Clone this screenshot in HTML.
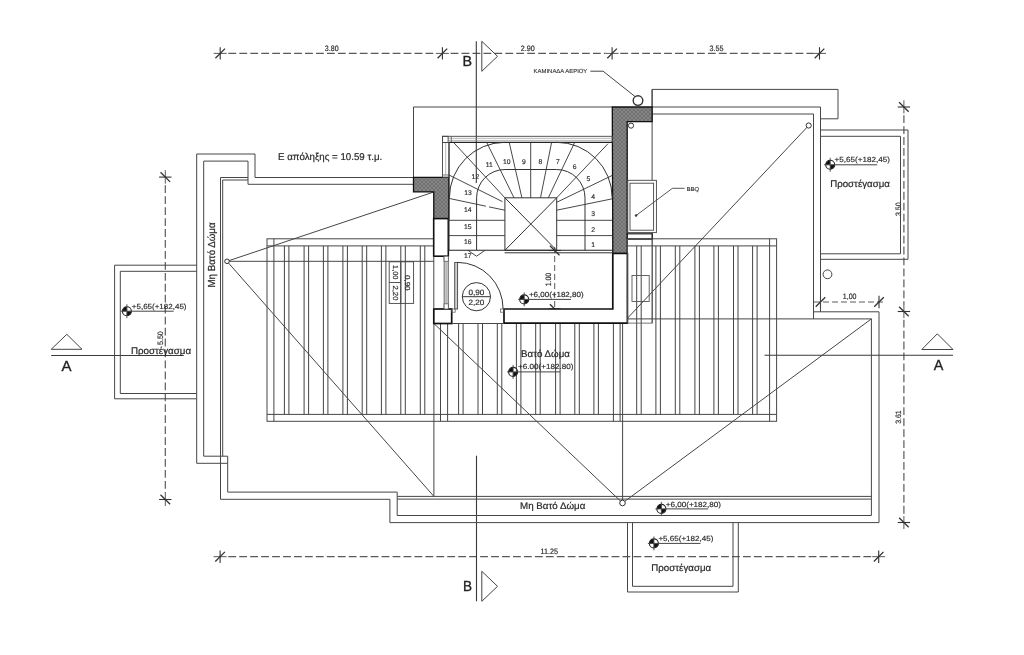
<!DOCTYPE html>
<html><head><meta charset="utf-8"><title>Plan</title>
<style>
html,body{margin:0;padding:0;background:#fff;width:1024px;height:655px;overflow:hidden;}
svg{display:block;will-change:transform;}
text{font-family:"Liberation Sans",sans-serif;text-rendering:geometricPrecision;}
</style></head><body>
<svg width="1024" height="655" viewBox="0 0 1024 655">
<defs>
<pattern id="hatch" width="4" height="4" patternUnits="userSpaceOnUse">
<rect width="4" height="4" fill="#858585"/>
<path d="M0,0 L4,4 M4,0 L0,4" stroke="#6c6c6c" stroke-width="0.8"/>
</pattern>
</defs>
<rect width="1024" height="655" fill="#fff"/>
<rect x="267" y="238.8" width="509.6" height="182.5" fill="none" stroke="#464646" stroke-width="1"/>
<line x1="273.9" y1="238.8" x2="273.9" y2="421.3" stroke="#464646" stroke-width="1" />
<line x1="769.6" y1="238.8" x2="769.6" y2="421.3" stroke="#464646" stroke-width="1" />
<line x1="267" y1="245.9" x2="776.6" y2="245.9" stroke="#464646" stroke-width="1" />
<line x1="267" y1="414.4" x2="776.6" y2="414.4" stroke="#464646" stroke-width="1" />
<line x1="284.4" y1="245.9" x2="284.4" y2="414.4" stroke="#444" stroke-width="1" />
<line x1="288.9" y1="245.9" x2="288.9" y2="414.4" stroke="#444" stroke-width="1" />
<line x1="304.1" y1="245.9" x2="304.1" y2="414.4" stroke="#444" stroke-width="1" />
<line x1="308.6" y1="245.9" x2="308.6" y2="414.4" stroke="#444" stroke-width="1" />
<line x1="323.4" y1="245.9" x2="323.4" y2="414.4" stroke="#444" stroke-width="1" />
<line x1="327.9" y1="245.9" x2="327.9" y2="414.4" stroke="#444" stroke-width="1" />
<line x1="342.9" y1="245.9" x2="342.9" y2="414.4" stroke="#444" stroke-width="1" />
<line x1="347.4" y1="245.9" x2="347.4" y2="414.4" stroke="#444" stroke-width="1" />
<line x1="362.2" y1="245.9" x2="362.2" y2="414.4" stroke="#444" stroke-width="1" />
<line x1="366.7" y1="245.9" x2="366.7" y2="414.4" stroke="#444" stroke-width="1" />
<line x1="381.4" y1="245.9" x2="381.4" y2="414.4" stroke="#444" stroke-width="1" />
<line x1="385.9" y1="245.9" x2="385.9" y2="414.4" stroke="#444" stroke-width="1" />
<line x1="400.8" y1="245.9" x2="400.8" y2="414.4" stroke="#444" stroke-width="1" />
<line x1="405.3" y1="245.9" x2="405.3" y2="414.4" stroke="#444" stroke-width="1" />
<line x1="420.3" y1="245.9" x2="420.3" y2="414.4" stroke="#444" stroke-width="1" />
<line x1="424.8" y1="245.9" x2="424.8" y2="414.4" stroke="#444" stroke-width="1" />
<line x1="458.6" y1="245.9" x2="458.6" y2="414.4" stroke="#444" stroke-width="1" />
<line x1="463.1" y1="245.9" x2="463.1" y2="414.4" stroke="#444" stroke-width="1" />
<line x1="478.0" y1="245.9" x2="478.0" y2="414.4" stroke="#444" stroke-width="1" />
<line x1="482.5" y1="245.9" x2="482.5" y2="414.4" stroke="#444" stroke-width="1" />
<line x1="497.3" y1="245.9" x2="497.3" y2="414.4" stroke="#444" stroke-width="1" />
<line x1="501.8" y1="245.9" x2="501.8" y2="414.4" stroke="#444" stroke-width="1" />
<line x1="516.4" y1="245.9" x2="516.4" y2="414.4" stroke="#444" stroke-width="1" />
<line x1="520.9" y1="245.9" x2="520.9" y2="414.4" stroke="#444" stroke-width="1" />
<line x1="535.7" y1="245.9" x2="535.7" y2="414.4" stroke="#444" stroke-width="1" />
<line x1="540.2" y1="245.9" x2="540.2" y2="414.4" stroke="#444" stroke-width="1" />
<line x1="555.6" y1="245.9" x2="555.6" y2="414.4" stroke="#444" stroke-width="1" />
<line x1="560.1" y1="245.9" x2="560.1" y2="414.4" stroke="#444" stroke-width="1" />
<line x1="574.8" y1="245.9" x2="574.8" y2="414.4" stroke="#444" stroke-width="1" />
<line x1="579.3" y1="245.9" x2="579.3" y2="414.4" stroke="#444" stroke-width="1" />
<line x1="593.9" y1="245.9" x2="593.9" y2="414.4" stroke="#444" stroke-width="1" />
<line x1="598.4" y1="245.9" x2="598.4" y2="414.4" stroke="#444" stroke-width="1" />
<line x1="636.7" y1="245.9" x2="636.7" y2="414.4" stroke="#444" stroke-width="1" />
<line x1="641.2" y1="245.9" x2="641.2" y2="414.4" stroke="#444" stroke-width="1" />
<line x1="655.9" y1="245.9" x2="655.9" y2="414.4" stroke="#444" stroke-width="1" />
<line x1="660.4" y1="245.9" x2="660.4" y2="414.4" stroke="#444" stroke-width="1" />
<line x1="675.3" y1="245.9" x2="675.3" y2="414.4" stroke="#444" stroke-width="1" />
<line x1="679.8" y1="245.9" x2="679.8" y2="414.4" stroke="#444" stroke-width="1" />
<line x1="694.9" y1="245.9" x2="694.9" y2="414.4" stroke="#444" stroke-width="1" />
<line x1="699.4" y1="245.9" x2="699.4" y2="414.4" stroke="#444" stroke-width="1" />
<line x1="713.9" y1="245.9" x2="713.9" y2="414.4" stroke="#444" stroke-width="1" />
<line x1="718.4" y1="245.9" x2="718.4" y2="414.4" stroke="#444" stroke-width="1" />
<line x1="733.5" y1="245.9" x2="733.5" y2="414.4" stroke="#444" stroke-width="1" />
<line x1="738.0" y1="245.9" x2="738.0" y2="414.4" stroke="#444" stroke-width="1" />
<line x1="752.6" y1="245.9" x2="752.6" y2="414.4" stroke="#444" stroke-width="1" />
<line x1="757.1" y1="245.9" x2="757.1" y2="414.4" stroke="#444" stroke-width="1" />
<rect x="433.8" y="230" width="193.6" height="93.5" fill="#fff"/>
<line x1="228.4" y1="53.4" x2="435.9" y2="53.4" stroke="#5a5a5a" stroke-width="1.2" stroke-dasharray="7.8 3.15"/>
<line x1="450.6" y1="53.4" x2="605.6" y2="53.4" stroke="#5a5a5a" stroke-width="1.2" stroke-dasharray="7.8 3.15"/>
<line x1="620.3" y1="53.4" x2="813.0" y2="53.4" stroke="#5a5a5a" stroke-width="1.2" stroke-dasharray="7.8 3.15"/>
<line x1="213.7" y1="53.4" x2="226.7" y2="53.4" stroke="#5a5a5a" stroke-width="1" />
<line x1="220.2" y1="47.199999999999996" x2="220.2" y2="59.6" stroke="#333" stroke-width="1.1" />
<line x1="215.39999999999998" y1="58.199999999999996" x2="225.0" y2="48.6" stroke="#333" stroke-width="1.3" />
<line x1="435.9" y1="53.4" x2="448.9" y2="53.4" stroke="#5a5a5a" stroke-width="1" />
<line x1="442.4" y1="47.199999999999996" x2="442.4" y2="59.6" stroke="#333" stroke-width="1.1" />
<line x1="437.59999999999997" y1="58.199999999999996" x2="447.2" y2="48.6" stroke="#333" stroke-width="1.3" />
<line x1="605.6" y1="53.4" x2="618.6" y2="53.4" stroke="#5a5a5a" stroke-width="1" />
<line x1="612.1" y1="47.199999999999996" x2="612.1" y2="59.6" stroke="#333" stroke-width="1.1" />
<line x1="607.3000000000001" y1="58.199999999999996" x2="616.9" y2="48.6" stroke="#333" stroke-width="1.3" />
<line x1="813.0" y1="53.4" x2="826.0" y2="53.4" stroke="#5a5a5a" stroke-width="1" />
<line x1="819.5" y1="47.199999999999996" x2="819.5" y2="59.6" stroke="#333" stroke-width="1.1" />
<line x1="814.7" y1="58.199999999999996" x2="824.3" y2="48.6" stroke="#333" stroke-width="1.3" />
<text x="324.8" y="50.5" font-size="7.8" text-anchor="start" fill="#2a2a2a" stroke="#2a2a2a" stroke-width="0.172" textLength="13.8" lengthAdjust="spacingAndGlyphs" >3.80</text>
<text x="520.8" y="50.5" font-size="7.8" text-anchor="start" fill="#2a2a2a" stroke="#2a2a2a" stroke-width="0.172" textLength="14" lengthAdjust="spacingAndGlyphs" >2.90</text>
<text x="709.5" y="50.5" font-size="7.8" text-anchor="start" fill="#2a2a2a" stroke="#2a2a2a" stroke-width="0.172" textLength="14" lengthAdjust="spacingAndGlyphs" >3.55</text>
<line x1="228.3" y1="556.7" x2="872.2" y2="556.7" stroke="#5a5a5a" stroke-width="1.2" stroke-dasharray="7.8 3.15"/>
<line x1="213.6" y1="556.7" x2="226.6" y2="556.7" stroke="#5a5a5a" stroke-width="1" />
<line x1="220.1" y1="550.5" x2="220.1" y2="562.9000000000001" stroke="#333" stroke-width="1.1" />
<line x1="215.29999999999998" y1="561.5" x2="224.9" y2="551.9000000000001" stroke="#333" stroke-width="1.3" />
<line x1="872.2" y1="556.7" x2="885.2" y2="556.7" stroke="#5a5a5a" stroke-width="1" />
<line x1="878.7" y1="550.5" x2="878.7" y2="562.9000000000001" stroke="#333" stroke-width="1.1" />
<line x1="873.9000000000001" y1="561.5" x2="883.5" y2="551.9000000000001" stroke="#333" stroke-width="1.3" />
<text x="540.5" y="553.7" font-size="7.8" text-anchor="start" fill="#2a2a2a" stroke="#2a2a2a" stroke-width="0.172" textLength="17.5" lengthAdjust="spacingAndGlyphs" >11.25</text>
<line x1="165.3" y1="171" x2="165.3" y2="170.6" stroke="#5a5a5a" stroke-width="1.2" stroke-dasharray="7.8 3.15"/>
<line x1="165.3" y1="185.3" x2="165.3" y2="493.0" stroke="#5a5a5a" stroke-width="1.2" stroke-dasharray="7.8 3.15"/>
<line x1="165.3" y1="170.6" x2="165.3" y2="183.6" stroke="#5a5a5a" stroke-width="1" />
<line x1="159.10000000000002" y1="177.1" x2="171.5" y2="177.1" stroke="#333" stroke-width="1.1" />
<line x1="160.5" y1="172.29999999999998" x2="170.10000000000002" y2="181.9" stroke="#333" stroke-width="1.3" />
<line x1="165.3" y1="493.0" x2="165.3" y2="506.0" stroke="#5a5a5a" stroke-width="1" />
<line x1="159.10000000000002" y1="499.5" x2="171.5" y2="499.5" stroke="#333" stroke-width="1.1" />
<line x1="160.5" y1="494.7" x2="170.10000000000002" y2="504.3" stroke="#333" stroke-width="1.3" />
<text x="0" y="0" font-size="7.8" text-anchor="start" fill="#2a2a2a" stroke="#2a2a2a" stroke-width="0.172" textLength="13.75" lengthAdjust="spacingAndGlyphs" transform="translate(162.6,345) rotate(-90)">5.50</text>
<line x1="903.9" y1="100.5" x2="903.9" y2="100.5" stroke="#5a5a5a" stroke-width="1.2" stroke-dasharray="7.8 3.15"/>
<line x1="903.9" y1="115.2" x2="903.9" y2="305.0" stroke="#5a5a5a" stroke-width="1.2" stroke-dasharray="7.8 3.15"/>
<line x1="903.9" y1="319.7" x2="903.9" y2="516.0" stroke="#5a5a5a" stroke-width="1.2" stroke-dasharray="7.8 3.15"/>
<line x1="903.9" y1="100.5" x2="903.9" y2="113.5" stroke="#5a5a5a" stroke-width="1" />
<line x1="897.6999999999999" y1="107" x2="910.1" y2="107" stroke="#333" stroke-width="1.1" />
<line x1="899.1" y1="102.2" x2="908.6999999999999" y2="111.8" stroke="#333" stroke-width="1.3" />
<line x1="903.9" y1="305.0" x2="903.9" y2="318.0" stroke="#5a5a5a" stroke-width="1" />
<line x1="897.6999999999999" y1="311.5" x2="910.1" y2="311.5" stroke="#333" stroke-width="1.1" />
<line x1="899.1" y1="306.7" x2="908.6999999999999" y2="316.3" stroke="#333" stroke-width="1.3" />
<line x1="903.9" y1="516.0" x2="903.9" y2="529.0" stroke="#5a5a5a" stroke-width="1" />
<line x1="897.6999999999999" y1="522.5" x2="910.1" y2="522.5" stroke="#333" stroke-width="1.1" />
<line x1="899.1" y1="517.7" x2="908.6999999999999" y2="527.3" stroke="#333" stroke-width="1.3" />
<text x="0" y="0" font-size="7.8" text-anchor="start" fill="#2a2a2a" stroke="#2a2a2a" stroke-width="0.172" textLength="13.5" lengthAdjust="spacingAndGlyphs" transform="translate(901.4,216) rotate(-90)">3.50</text>
<text x="0" y="0" font-size="7.8" text-anchor="start" fill="#2a2a2a" stroke="#2a2a2a" stroke-width="0.172" textLength="13.5" lengthAdjust="spacingAndGlyphs" transform="translate(901.4,423.8) rotate(-90)">3.61</text>
<line x1="814" y1="302" x2="885" y2="302" stroke="#5a5a5a" stroke-width="1" stroke-dasharray="6 3"/>
<line x1="820.5" y1="295.8" x2="820.5" y2="308.2" stroke="#333" stroke-width="1.1" />
<line x1="815.7" y1="306.8" x2="825.3" y2="297.2" stroke="#333" stroke-width="1.3" />
<line x1="879" y1="295.8" x2="879" y2="308.2" stroke="#333" stroke-width="1.1" />
<line x1="874.2" y1="306.8" x2="883.8" y2="297.2" stroke="#333" stroke-width="1.3" />
<text x="842.8" y="299.2" font-size="7.8" text-anchor="start" fill="#2a2a2a" stroke="#2a2a2a" stroke-width="0.172" textLength="13.7" lengthAdjust="spacingAndGlyphs" >1,00</text>
<line x1="554.7" y1="247" x2="554.7" y2="312" stroke="#5a5a5a" stroke-width="1" stroke-dasharray="6 3"/>
<line x1="548.5" y1="250.5" x2="560.9000000000001" y2="250.5" stroke="#333" stroke-width="1.1" />
<line x1="549.9000000000001" y1="245.7" x2="559.5" y2="255.3" stroke="#333" stroke-width="1.3" />
<line x1="548.5" y1="309" x2="560.9000000000001" y2="309" stroke="#333" stroke-width="1.1" />
<line x1="549.9000000000001" y1="304.2" x2="559.5" y2="313.8" stroke="#333" stroke-width="1.3" />
<text x="0" y="0" font-size="7.8" text-anchor="start" fill="#2a2a2a" stroke="#2a2a2a" stroke-width="0.172" textLength="13.4" lengthAdjust="spacingAndGlyphs" transform="translate(551.3,286.2) rotate(-90)">1.00</text>
<line x1="476.3" y1="41.3" x2="476.3" y2="183" stroke="#3a3a3a" stroke-width="1.1" />
<polygon points="481.8,41.3 497.5,56.3 481.8,71.3" fill="none" stroke="#444" stroke-width="1" />
<text x="462.5" y="66.2" font-size="14.5" text-anchor="start" fill="#222" stroke="#222" stroke-width="0.319" textLength="9.5" lengthAdjust="spacingAndGlyphs" >B</text>
<line x1="476.5" y1="455.7" x2="476.5" y2="601.3" stroke="#3a3a3a" stroke-width="1.1" />
<polygon points="481.8,571.3 497.5,586.3 481.8,601.3" fill="none" stroke="#444" stroke-width="1" />
<text x="463" y="590.6" font-size="14.5" text-anchor="start" fill="#222" stroke="#222" stroke-width="0.319" textLength="9" lengthAdjust="spacingAndGlyphs" >B</text>
<line x1="51.2" y1="355.5" x2="183.8" y2="355.5" stroke="#3a3a3a" stroke-width="1.1" />
<polygon points="51.2,349.3 66.8,334.3 82,349.3" fill="none" stroke="#444" stroke-width="1" />
<text x="61.5" y="371.3" font-size="14.5" text-anchor="start" fill="#222" stroke="#222" stroke-width="0.319" textLength="10" lengthAdjust="spacingAndGlyphs" >A</text>
<line x1="764.5" y1="355.3" x2="953" y2="355.3" stroke="#3a3a3a" stroke-width="1.1" />
<polygon points="921.8,349.5 937.3,333.8 953,349.5" fill="none" stroke="#444" stroke-width="1" />
<text x="933.8" y="370.1" font-size="14.5" text-anchor="start" fill="#222" stroke="#222" stroke-width="0.319" textLength="9.6" lengthAdjust="spacingAndGlyphs" >A</text>
<polyline points="196.7,265.2 114.6,265.2 114.6,398.8 196.7,398.8" fill="none" stroke="#464646" stroke-width="1" />
<polyline points="196.7,271.3 120.3,271.3 120.3,393.5 196.7,393.5" fill="none" stroke="#464646" stroke-width="1" />
<path d="M126.9,311.2 L122.4,311.2 A4.5,4.5 0 0 1 126.9,306.7 Z" fill="#111"/>
<path d="M126.9,311.2 L131.4,311.2 A4.5,4.5 0 0 1 126.9,315.7 Z" fill="#111"/>
<circle cx="126.9" cy="311.2" r="4.5" fill="none" stroke="#222" stroke-width="1.1"/>
<line x1="126.9" y1="304.2" x2="126.9" y2="318.2" stroke="#444" stroke-width="0.9" />
<line x1="120.9" y1="311.2" x2="173.6" y2="311.2" stroke="#444" stroke-width="1" />
<text x="131.8" y="309" font-size="7.4" text-anchor="start" fill="#2a2a2a" stroke="#2a2a2a" stroke-width="0.163" textLength="54.7" lengthAdjust="spacingAndGlyphs" >+5,65(+182,45)</text>
<text x="130.9" y="353.75" font-size="9.7" text-anchor="start" fill="#2a2a2a" stroke="#2a2a2a" stroke-width="0.213" textLength="60.2" lengthAdjust="spacingAndGlyphs" >Προστέγασμα</text>
<polyline points="196.7,463.3 196.7,154 255,154 255,177.5" fill="none" stroke="#464646" stroke-width="1" />
<polyline points="203.7,456.2 203.7,161.1 248,161.1 248,184.3" fill="none" stroke="#464646" stroke-width="1" />
<line x1="203.7" y1="456.2" x2="227.7" y2="456.2" stroke="#464646" stroke-width="1" />
<line x1="196.7" y1="463.3" x2="227.7" y2="463.3" stroke="#464646" stroke-width="1" />
<line x1="220.5" y1="177.5" x2="248" y2="177.5" stroke="#464646" stroke-width="1" />
<line x1="255" y1="177.5" x2="413.5" y2="177.5" stroke="#464646" stroke-width="1" />
<polyline points="222.7,456.2 222.7,180 248,180" fill="none" stroke="#464646" stroke-width="1" />
<line x1="248" y1="184.3" x2="413.5" y2="184.3" stroke="#464646" stroke-width="1" />
<polyline points="220.5,177.5 220.5,499.3 389.9,499.3 389.9,522.6 879,522.6 879,311.8 813.5,311.8" fill="none" stroke="#464646" stroke-width="1" />
<polyline points="227.7,456.2 227.7,492.1 397.2,492.1 397.2,515.5 871.4,515.5 871.4,318.9 627.4,318.9" fill="none" stroke="#464646" stroke-width="1" />
<line x1="397.2" y1="496.4" x2="871.4" y2="496.4" stroke="#464646" stroke-width="1" />
<line x1="397.2" y1="499.1" x2="871.4" y2="499.1" stroke="#464646" stroke-width="1" />
<text x="0" y="0" font-size="10.2" text-anchor="start" fill="#2a2a2a" stroke="#2a2a2a" stroke-width="0.224" textLength="65.2" lengthAdjust="spacingAndGlyphs" transform="translate(214.7,287.6) rotate(-90)">Μη Βατό Δώμα</text>
<text x="520.1" y="509.1" font-size="9.6" text-anchor="start" fill="#2a2a2a" stroke="#2a2a2a" stroke-width="0.211" textLength="65.3" lengthAdjust="spacingAndGlyphs" >Μη Βατό Δώμα</text>
<polyline points="652.1,107 820.5,107 820.5,311.8" fill="none" stroke="#464646" stroke-width="1" />
<polyline points="652.1,114 813.5,114 813.5,318.9" fill="none" stroke="#464646" stroke-width="1" />
<polyline points="652.1,107 652.1,89.4 838,89.4 838,118.8 820.5,118.8" fill="none" stroke="#464646" stroke-width="1" />
<line x1="652.1" y1="89.4" x2="652.1" y2="323.1" stroke="#464646" stroke-width="1" />
<polyline points="820.5,130 908,130 908,259.3 820.5,259.3" fill="none" stroke="#464646" stroke-width="1" />
<polyline points="820.5,136.3 900.5,136.3 900.5,253.8 820.5,253.8" fill="none" stroke="#464646" stroke-width="1" />
<path d="M830.2,164.8 L825.7,164.8 A4.5,4.5 0 0 1 830.2,160.3 Z" fill="#111"/>
<path d="M830.2,164.8 L834.7,164.8 A4.5,4.5 0 0 1 830.2,169.3 Z" fill="#111"/>
<circle cx="830.2" cy="164.8" r="4.5" fill="none" stroke="#222" stroke-width="1.1"/>
<line x1="830.2" y1="157.8" x2="830.2" y2="171.8" stroke="#444" stroke-width="0.9" />
<line x1="824.2" y1="164.8" x2="877.2" y2="164.8" stroke="#444" stroke-width="1" />
<text x="834.6" y="162.4" font-size="7.4" text-anchor="start" fill="#2a2a2a" stroke="#2a2a2a" stroke-width="0.163" textLength="55.3" lengthAdjust="spacingAndGlyphs" >+5,65(+182,45)</text>
<text x="830.2" y="186.7" font-size="9.7" text-anchor="start" fill="#2a2a2a" stroke="#2a2a2a" stroke-width="0.213" textLength="59.7" lengthAdjust="spacingAndGlyphs" >Προστέγασμα</text>
<circle cx="827.5" cy="274.3" r="4.4" fill="none" stroke="#464646" stroke-width="1"/>
<polyline points="627.5,522.6 627.5,592 738.3,592 738.3,522.6" fill="none" stroke="#464646" stroke-width="1" />
<polyline points="632.5,522.6 632.5,586.3 733,586.3 733,522.6" fill="none" stroke="#464646" stroke-width="1" />
<path d="M653.9,543.4 L649.4,543.4 A4.5,4.5 0 0 1 653.9,538.9 Z" fill="#111"/>
<path d="M653.9,543.4 L658.4,543.4 A4.5,4.5 0 0 1 653.9,547.9 Z" fill="#111"/>
<circle cx="653.9" cy="543.4" r="4.5" fill="none" stroke="#222" stroke-width="1.1"/>
<line x1="653.9" y1="536.4" x2="653.9" y2="550.4" stroke="#444" stroke-width="0.9" />
<line x1="647.9" y1="543.4" x2="700.5" y2="543.4" stroke="#444" stroke-width="1" />
<text x="658.4" y="540.9" font-size="7.4" text-anchor="start" fill="#2a2a2a" stroke="#2a2a2a" stroke-width="0.163" textLength="55" lengthAdjust="spacingAndGlyphs" >+5,65(+182,45)</text>
<text x="651.3" y="571" font-size="9.7" text-anchor="start" fill="#2a2a2a" stroke="#2a2a2a" stroke-width="0.213" textLength="59.8" lengthAdjust="spacingAndGlyphs" >Προστέγασμα</text>
<path d="M661.4,508.9 L656.9,508.9 A4.5,4.5 0 0 1 661.4,504.4 Z" fill="#111"/>
<path d="M661.4,508.9 L665.9,508.9 A4.5,4.5 0 0 1 661.4,513.4 Z" fill="#111"/>
<circle cx="661.4" cy="508.9" r="4.5" fill="none" stroke="#222" stroke-width="1.1"/>
<line x1="661.4" y1="501.9" x2="661.4" y2="515.9" stroke="#444" stroke-width="0.9" />
<line x1="655.4" y1="508.9" x2="708.2" y2="508.9" stroke="#444" stroke-width="1" />
<text x="665.75" y="506.7" font-size="7.4" text-anchor="start" fill="#2a2a2a" stroke="#2a2a2a" stroke-width="0.163" textLength="55.3" lengthAdjust="spacingAndGlyphs" >+6,00(+182,80)</text>
<line x1="227" y1="261.3" x2="433.75" y2="192" stroke="#464646" stroke-width="1" />
<line x1="227" y1="261.3" x2="433.7" y2="261.3" stroke="#464646" stroke-width="1" />
<line x1="227" y1="261.3" x2="433.9" y2="496.4" stroke="#464646" stroke-width="1" />
<line x1="433.9" y1="323.5" x2="433.9" y2="496.4" stroke="#464646" stroke-width="1" />
<line x1="433.9" y1="323.5" x2="622.5" y2="503" stroke="#464646" stroke-width="1" />
<line x1="871.4" y1="318.9" x2="622.5" y2="503" stroke="#464646" stroke-width="1" />
<line x1="622.6" y1="323.1" x2="622.6" y2="500" stroke="#464646" stroke-width="1" />
<line x1="613.4" y1="323.1" x2="613.4" y2="421.3" stroke="#464646" stroke-width="1" />
<line x1="620.1" y1="323.1" x2="620.1" y2="421.3" stroke="#464646" stroke-width="1" />
<line x1="808.7" y1="125.5" x2="627.4" y2="318.3" stroke="#464646" stroke-width="1" />
<circle cx="227" cy="261.3" r="2.3" fill="#fff" stroke="#333" stroke-width="1"/>
<circle cx="622.5" cy="503" r="2.8" fill="#fff" stroke="#333" stroke-width="1"/>
<circle cx="808.7" cy="125.5" r="2.6" fill="#fff" stroke="#333" stroke-width="1"/>
<circle cx="631" cy="125.6" r="2.6" fill="#fff" stroke="#333" stroke-width="1"/>
<line x1="440.5" y1="323.5" x2="440.5" y2="421.3" stroke="#464646" stroke-width="1" />
<line x1="447.6" y1="323.5" x2="447.6" y2="421.3" stroke="#464646" stroke-width="1" />
<polyline points="413.5,177.5 413.5,107 612.3,107" fill="none" stroke="#464646" stroke-width="1" />
<polygon points="413.5,177.4 448.75,177.4 448.75,218.6 433.75,218.6 433.75,191.9 413.5,191.9" fill="url(#hatch)" stroke="#111" stroke-width="1.3" />
<polygon points="612.3,107 652.1,107 652.1,121.7 627.2,121.7 627.2,253.5 612.8,253.5" fill="url(#hatch)" stroke="#111" stroke-width="1.3" />
<rect x="433.7" y="218.6" width="14.6" height="37.6" fill="#fff" stroke="#111" stroke-width="1.6"/>
<polygon points="612.8,253.5 627.4,253.5 627.4,323.1 504,323.1 504,309 612.8,309" fill="#fff" stroke="#111" stroke-width="1.7" />
<rect x="433.8" y="309" width="17.9" height="14.5" fill="#fff" stroke="#111" stroke-width="1.7"/>
<line x1="451.7" y1="323.5" x2="504" y2="323.5" stroke="#464646" stroke-width="1" />
<rect x="444.1" y="256.2" width="4.2" height="52.8" fill="#d0d0d0" stroke="#555" stroke-width="0.8"/>
<rect x="444.1" y="256.2" width="4.2" height="5.1" fill="#fff" stroke="#555" stroke-width="0.8"/>
<rect x="444.1" y="303.8" width="4.2" height="5.2" fill="#fff" stroke="#555" stroke-width="0.8"/>
<line x1="446.2" y1="261.3" x2="446.2" y2="303.8" stroke="#999" stroke-width="0.6" />
<line x1="433.8" y1="256.2" x2="433.8" y2="309" stroke="#464646" stroke-width="1" />
<rect x="442.5" y="136.3" width="169.8" height="6.2" fill="none" stroke="#444" stroke-width="0.9"/>
<line x1="448" y1="138.3" x2="612.3" y2="138.3" stroke="#888" stroke-width="0.6" />
<line x1="448" y1="140.4" x2="612.3" y2="140.4" stroke="#888" stroke-width="0.6" />
<rect x="442.5" y="136.3" width="5.6" height="6.2" fill="none" stroke="#444" stroke-width="0.9"/>
<line x1="451.3" y1="136.3" x2="451.3" y2="142.5" stroke="#555" stroke-width="0.8" />
<rect x="442.5" y="142.5" width="6.5" height="34.9" fill="none" stroke="#444" stroke-width="0.9"/>
<line x1="445.7" y1="143" x2="445.7" y2="175" stroke="#888" stroke-width="0.6" />
<line x1="442.5" y1="175" x2="449" y2="175" stroke="#555" stroke-width="0.8" />
<line x1="449" y1="142.4" x2="612.3" y2="142.4" stroke="#222" stroke-width="1.3" />
<line x1="449" y1="142.4" x2="449" y2="250.3" stroke="#333" stroke-width="1" />
<line x1="448.3" y1="250.3" x2="612.8" y2="250.3" stroke="#222" stroke-width="1.1" />
<line x1="504.6" y1="252.8" x2="612.8" y2="252.8" stroke="#333" stroke-width="1" />
<rect x="504.9" y="197.8" width="51.8" height="52.5" fill="none" stroke="#333" stroke-width="1"/>
<line x1="504.9" y1="197.8" x2="556.7" y2="250.3" stroke="#333" stroke-width="1" />
<line x1="556.7" y1="197.8" x2="504.9" y2="250.3" stroke="#333" stroke-width="1" />
<path d="M449.4,197.8 A55.5,55.5 0 0 1 504.9,142.3" fill="none" stroke="#333" stroke-width="1"/>
<path d="M556.7,142.3 A55.5,55.5 0 0 1 612.2,197.8" fill="none" stroke="#333" stroke-width="1"/>
<path d="M476.6,250.3 V197.8 A28.3,28.3 0 0 1 504.9,169.5 H556.7 A28.3,28.3 0 0 1 585,197.8 V250.3" fill="none" stroke="#333" stroke-width="1"/>
<line x1="449" y1="220.3" x2="504.9" y2="220.3" stroke="#333" stroke-width="0.9" />
<line x1="449" y1="235.6" x2="504.9" y2="235.6" stroke="#333" stroke-width="0.9" />
<line x1="556.7" y1="220.3" x2="612.3" y2="220.3" stroke="#333" stroke-width="0.9" />
<line x1="556.7" y1="235.6" x2="612.3" y2="235.6" stroke="#333" stroke-width="0.9" />
<line x1="449" y1="198.4" x2="485.9" y2="206.2" stroke="#333" stroke-width="0.9" />
<line x1="489" y1="206.9" x2="504.9" y2="210.2" stroke="#333" stroke-width="0.9" />
<line x1="449" y1="175" x2="502.4" y2="201.6" stroke="#333" stroke-width="0.9" />
<line x1="453.5" y1="142.4" x2="504.9" y2="197.8" stroke="#333" stroke-width="0.9" />
<line x1="486.7" y1="142.4" x2="514" y2="197.8" stroke="#333" stroke-width="0.9" />
<line x1="509.2" y1="142.4" x2="521.9" y2="197.8" stroke="#333" stroke-width="0.9" />
<line x1="530.7" y1="142.4" x2="530.7" y2="197.8" stroke="#333" stroke-width="0.9" />
<line x1="551.6" y1="142.4" x2="540.5" y2="197.8" stroke="#333" stroke-width="0.9" />
<line x1="574.7" y1="142.4" x2="548.3" y2="197.8" stroke="#333" stroke-width="0.9" />
<line x1="608" y1="143.7" x2="556.7" y2="197.8" stroke="#333" stroke-width="0.9" />
<line x1="612.3" y1="175.4" x2="556.7" y2="202.3" stroke="#333" stroke-width="0.9" />
<line x1="612.3" y1="198.8" x2="556.7" y2="210.2" stroke="#333" stroke-width="0.9" />
<text x="593.2" y="246.9" font-size="6.8" text-anchor="middle" fill="#2a2a2a" stroke="#2a2a2a" stroke-width="0.15" >1</text>
<text x="593.2" y="231.8" font-size="6.8" text-anchor="middle" fill="#2a2a2a" stroke="#2a2a2a" stroke-width="0.15" >2</text>
<text x="593.2" y="216.2" font-size="6.8" text-anchor="middle" fill="#2a2a2a" stroke="#2a2a2a" stroke-width="0.15" >3</text>
<text x="593.2" y="198.5" font-size="6.8" text-anchor="middle" fill="#2a2a2a" stroke="#2a2a2a" stroke-width="0.15" >4</text>
<text x="588.4" y="181.4" font-size="6.8" text-anchor="middle" fill="#2a2a2a" stroke="#2a2a2a" stroke-width="0.15" >5</text>
<text x="574.7" y="168.7" font-size="6.8" text-anchor="middle" fill="#2a2a2a" stroke="#2a2a2a" stroke-width="0.15" >6</text>
<text x="558" y="163.8" font-size="6.8" text-anchor="middle" fill="#2a2a2a" stroke="#2a2a2a" stroke-width="0.15" >7</text>
<text x="540.5" y="163.8" font-size="6.8" text-anchor="middle" fill="#2a2a2a" stroke="#2a2a2a" stroke-width="0.15" >8</text>
<text x="523.8" y="163.8" font-size="6.8" text-anchor="middle" fill="#2a2a2a" stroke="#2a2a2a" stroke-width="0.15" >9</text>
<text x="506.8" y="163.8" font-size="6.8" text-anchor="middle" fill="#2a2a2a" stroke="#2a2a2a" stroke-width="0.15" >10</text>
<text x="489.2" y="167.3" font-size="6.8" text-anchor="middle" fill="#2a2a2a" stroke="#2a2a2a" stroke-width="0.15" >11</text>
<text x="475.4" y="178.8" font-size="6.8" text-anchor="middle" fill="#2a2a2a" stroke="#2a2a2a" stroke-width="0.15" >12</text>
<text x="468.1" y="195.1" font-size="6.8" text-anchor="middle" fill="#2a2a2a" stroke="#2a2a2a" stroke-width="0.15" >13</text>
<text x="467.7" y="212.3" font-size="6.8" text-anchor="middle" fill="#2a2a2a" stroke="#2a2a2a" stroke-width="0.15" >14</text>
<text x="467.7" y="228.7" font-size="6.8" text-anchor="middle" fill="#2a2a2a" stroke="#2a2a2a" stroke-width="0.15" >15</text>
<text x="467.7" y="243.5" font-size="6.8" text-anchor="middle" fill="#2a2a2a" stroke="#2a2a2a" stroke-width="0.15" >16</text>
<text x="467.7" y="258.0" font-size="6.8" text-anchor="middle" fill="#2a2a2a" stroke="#2a2a2a" stroke-width="0.15" >17</text>
<polyline points="467.9,250.3 476.5,256.2 485,250.3" fill="none" stroke="#333" stroke-width="0.9" />
<rect x="454.7" y="262.4" width="2.9" height="46.6" fill="#cfcfcf" stroke="#444" stroke-width="0.9"/>
<rect x="451.7" y="309" width="3.5" height="3.2" fill="none" stroke="#555" stroke-width="0.7"/>
<rect x="500.6" y="309" width="3.4" height="3.2" fill="none" stroke="#555" stroke-width="0.7"/>
<path d="M457.6,262.4 A45.5,46.6 0 0 1 503.1,309" fill="none" stroke="#333" stroke-width="1"/>
<circle cx="476.4" cy="296.7" r="14.1" fill="#fff" stroke="#333" stroke-width="1"/>
<line x1="462.3" y1="296.7" x2="490.5" y2="296.7" stroke="#333" stroke-width="1" />
<text x="468.5" y="295.3" font-size="7.6" text-anchor="start" fill="#2a2a2a" stroke="#2a2a2a" stroke-width="0.167" textLength="15.8" lengthAdjust="spacingAndGlyphs" >0,90</text>
<text x="468.5" y="304.5" font-size="7.6" text-anchor="start" fill="#2a2a2a" stroke="#2a2a2a" stroke-width="0.167" textLength="15.8" lengthAdjust="spacingAndGlyphs" >2,20</text>
<path d="M524.2,299.4 L519.7,299.4 A4.5,4.5 0 0 1 524.2,294.9 Z" fill="#111"/>
<path d="M524.2,299.4 L528.7,299.4 A4.5,4.5 0 0 1 524.2,303.9 Z" fill="#111"/>
<circle cx="524.2" cy="299.4" r="4.5" fill="none" stroke="#222" stroke-width="1.1"/>
<line x1="524.2" y1="292.4" x2="524.2" y2="306.4" stroke="#444" stroke-width="0.9" />
<line x1="518.2" y1="299.4" x2="571" y2="299.4" stroke="#444" stroke-width="1" />
<text x="528.9" y="296.6" font-size="7.4" text-anchor="start" fill="#2a2a2a" stroke="#2a2a2a" stroke-width="0.163" textLength="54.7" lengthAdjust="spacingAndGlyphs" >+6,00(+182,80)</text>
<rect x="389.2" y="261.8" width="24.4" height="41.6" fill="none" stroke="#444" stroke-width="0.9"/>
<line x1="400.8" y1="261.8" x2="400.8" y2="303.4" stroke="#444" stroke-width="0.9" />
<line x1="389.2" y1="282.5" x2="400.8" y2="282.5" stroke="#444" stroke-width="0.9" />
<text x="0" y="0" font-size="7.3" text-anchor="start" fill="#2a2a2a" stroke="#2a2a2a" stroke-width="0.161" textLength="14.5" lengthAdjust="spacingAndGlyphs" transform="translate(392.6,265) rotate(90)">1,00</text>
<text x="0" y="0" font-size="7.3" text-anchor="start" fill="#2a2a2a" stroke="#2a2a2a" stroke-width="0.161" textLength="15.1" lengthAdjust="spacingAndGlyphs" transform="translate(392.6,285.4) rotate(90)">2,20</text>
<text x="0" y="0" font-size="7.3" text-anchor="start" fill="#2a2a2a" stroke="#2a2a2a" stroke-width="0.161" textLength="15.7" lengthAdjust="spacingAndGlyphs" transform="translate(404.7,274.9) rotate(90)">0,90</text>
<text x="521.1" y="357.2" font-size="9.7" text-anchor="start" fill="#2a2a2a" stroke="#2a2a2a" stroke-width="0.213" textLength="48.8" lengthAdjust="spacingAndGlyphs" >Βατό Δώμα</text>
<path d="M513.1,371.9 L508.6,371.9 A4.5,4.5 0 0 1 513.1,367.4 Z" fill="#111"/>
<path d="M513.1,371.9 L517.6,371.9 A4.5,4.5 0 0 1 513.1,376.4 Z" fill="#111"/>
<circle cx="513.1" cy="371.9" r="4.5" fill="none" stroke="#222" stroke-width="1.1"/>
<line x1="513.1" y1="364.9" x2="513.1" y2="378.9" stroke="#444" stroke-width="0.9" />
<line x1="507.1" y1="371.9" x2="560.2" y2="371.9" stroke="#444" stroke-width="1" />
<text x="518" y="368.9" font-size="7.4" text-anchor="start" fill="#2a2a2a" stroke="#2a2a2a" stroke-width="0.163" textLength="55.4" lengthAdjust="spacingAndGlyphs" >+6.00(+182.80)</text>
<text x="278" y="159.7" font-size="9.9" text-anchor="start" fill="#2a2a2a" stroke="#2a2a2a" stroke-width="0.218" textLength="104.3" lengthAdjust="spacingAndGlyphs" >Ε απόληξης = 10.59 τ.μ.</text>
<text x="533.6" y="73.3" font-size="5.9" text-anchor="start" fill="#333" stroke="#333" stroke-width="0.13" textLength="53.6" lengthAdjust="spacingAndGlyphs" >ΚΑΜΙΝΑΔΑ ΑΕΡΙΟΥ</text>
<polyline points="590.4,71.2 603.1,71.2 635.4,96.8" fill="none" stroke="#444" stroke-width="1" />
<circle cx="638" cy="100.6" r="4.8" fill="none" stroke="#333" stroke-width="1.4"/>
<rect x="627.8" y="180.3" width="28.6" height="52.3" fill="#fff" stroke="#444" stroke-width="0.9"/>
<rect x="630" y="183.2" width="23.6" height="47.0" fill="none" stroke="#444" stroke-width="0.9"/>
<rect x="627.4" y="233.8" width="24.9" height="5.3" fill="none" stroke="#222" stroke-width="1.2"/>
<text x="686.8" y="190.6" font-size="5.8" text-anchor="start" fill="#2a2a2a" stroke="#2a2a2a" stroke-width="0.128" textLength="12.2" lengthAdjust="spacingAndGlyphs" >BBQ</text>
<polyline points="684.6,188.3 672.4,188.3 636.1,215.5" fill="none" stroke="#444" stroke-width="0.9" />
<circle cx="636.1" cy="215.5" r="0.9" fill="#333" stroke="#333" stroke-width="0.8"/>
<rect x="627.4" y="239.1" width="24.9" height="84.0" fill="none" stroke="#555" stroke-width="0.8"/>
<rect x="632" y="275.5" width="17.2" height="26.0" fill="none" stroke="#555" stroke-width="0.9"/>
</svg>
</body></html>
